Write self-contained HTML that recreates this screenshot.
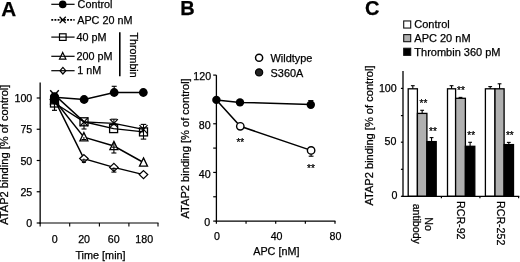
<!DOCTYPE html>
<html><head><meta charset="utf-8"><title>Figure</title>
<style>
html,body{margin:0;padding:0;background:#fff;}
svg{display:block;}
text{font-family:"Liberation Sans",sans-serif;fill:#000;stroke:#000;stroke-width:0.25px;}
</style></head>
<body>
<svg width="520" height="262" viewBox="0 0 520 262">
<rect width="520" height="262" fill="#fff"/>
<text x="1.2" y="15.6" font-size="20.7" text-anchor="start" font-weight="bold">A</text>
<text x="180.3" y="15.4" font-size="20" text-anchor="start" font-weight="bold">B</text>
<text x="365.1" y="15.3" font-size="20" text-anchor="start" font-weight="bold">C</text>
<line x1="51.3" y1="4.3" x2="74.6" y2="4.3" stroke="#000" stroke-width="1.2"/>
<circle cx="62.7" cy="4.4" r="3.8" fill="#000" stroke="#000" stroke-width="0"/>
<text x="77.6" y="7.8" font-size="10.8" text-anchor="start" font-weight="normal">Control</text>
<line x1="51.3" y1="19.9" x2="74.6" y2="19.9" stroke="#000" stroke-width="1.7" stroke-dasharray="1.9 1.25"/>
<line x1="59.6" y1="16.7" x2="65.8" y2="23.099999999999998" stroke="#000" stroke-width="1.3"/>
<line x1="59.6" y1="23.099999999999998" x2="65.8" y2="16.7" stroke="#000" stroke-width="1.3"/>
<text x="77.2" y="23.9" font-size="10.8" text-anchor="start" font-weight="normal">APC 20 nM</text>
<line x1="51.3" y1="37.1" x2="74.6" y2="37.1" stroke="#000" stroke-width="1.2"/>
<rect x="59.50000000000001" y="33.800000000000004" width="6.6" height="6.6" fill="none" stroke="#000" stroke-width="1.2"/>
<text x="76.4" y="40.8" font-size="10.8" text-anchor="start" font-weight="normal">40 pM</text>
<line x1="51.3" y1="56.3" x2="74.6" y2="56.3" stroke="#000" stroke-width="1.2"/>
<polygon points="62.7,52.4 65.9,59.1 59.5,59.1" fill="#fff" stroke="#000" stroke-width="1.2" stroke-linejoin="miter"/>
<line x1="60.7" y1="56.3" x2="64.7" y2="56.3" stroke="#000" stroke-width="1.0"/>
<text x="76.4" y="59.5" font-size="10.8" text-anchor="start" font-weight="normal">200 pM</text>
<line x1="51.3" y1="70.7" x2="74.6" y2="70.7" stroke="#000" stroke-width="1.2"/>
<polygon points="62.900000000000006,67.4 65.80000000000001,70.7 62.900000000000006,74.0 60.00000000000001,70.7" fill="none" stroke="#000" stroke-width="1.2"/>
<text x="77.2" y="74.3" font-size="10.8" text-anchor="start" font-weight="normal">1 nM</text>
<line x1="119.8" y1="32.3" x2="119.8" y2="76.2" stroke="#000" stroke-width="1.6"/>
<text x="129.6" y="32.6" font-size="10.67" text-anchor="start" font-weight="normal" transform="rotate(90 129.6 32.6)">Thrombin</text>
<line x1="40.15" y1="82.6" x2="40.15" y2="223.65" stroke="#000" stroke-width="1.3"/>
<line x1="39.5" y1="223.0" x2="158.5" y2="223.0" stroke="#000" stroke-width="1.2"/>
<line x1="36.7" y1="98.0" x2="40.15" y2="98.0" stroke="#000" stroke-width="1.2"/>
<text x="32.3" y="102.2" font-size="10.67" text-anchor="end" font-weight="normal">100</text>
<line x1="36.7" y1="129.25" x2="40.15" y2="129.25" stroke="#000" stroke-width="1.2"/>
<text x="32.3" y="133.45" font-size="10.67" text-anchor="end" font-weight="normal">75</text>
<line x1="36.7" y1="160.5" x2="40.15" y2="160.5" stroke="#000" stroke-width="1.2"/>
<text x="32.3" y="164.7" font-size="10.67" text-anchor="end" font-weight="normal">50</text>
<line x1="36.7" y1="191.75" x2="40.15" y2="191.75" stroke="#000" stroke-width="1.2"/>
<text x="32.3" y="195.95" font-size="10.67" text-anchor="end" font-weight="normal">25</text>
<line x1="36.7" y1="223.0" x2="40.15" y2="223.0" stroke="#000" stroke-width="1.2"/>
<text x="32.3" y="227.2" font-size="10.67" text-anchor="end" font-weight="normal">0</text>
<line x1="69.7" y1="223.0" x2="69.7" y2="226.4" stroke="#000" stroke-width="1.1"/>
<line x1="99.4" y1="223.0" x2="99.4" y2="226.4" stroke="#000" stroke-width="1.1"/>
<line x1="128.9" y1="223.0" x2="128.9" y2="226.4" stroke="#000" stroke-width="1.1"/>
<line x1="158.0" y1="223.0" x2="158.0" y2="226.4" stroke="#000" stroke-width="1.1"/>
<line x1="40.15" y1="223.0" x2="40.15" y2="226.4" stroke="#000" stroke-width="1.1"/>
<text x="54.7" y="242.9" font-size="10.67" text-anchor="middle" font-weight="normal">0</text>
<text x="84.1" y="242.9" font-size="10.67" text-anchor="middle" font-weight="normal">20</text>
<text x="113.8" y="242.9" font-size="10.67" text-anchor="middle" font-weight="normal">60</text>
<text x="144.2" y="242.9" font-size="10.67" text-anchor="middle" font-weight="normal">180</text>
<text x="100.5" y="259.2" font-size="10.85" text-anchor="middle" font-weight="normal">Time [min]</text>
<text x="8.5" y="224.8" font-size="11.1" text-anchor="start" font-weight="normal" transform="rotate(-90 8.5 224.8)">ATAP2 binding [% of control]</text>
<polyline points="54.5,99.6 83.9,158.6 113.9,167.4 143.5,174.6" fill="none" stroke="#000" stroke-width="1.45"/>
<polyline points="54.5,100.2 83.9,137.2 113.9,146 143.5,162.5" fill="none" stroke="#000" stroke-width="1.45"/>
<polyline points="54.5,103.0 84,121.8 113.6,128.6 143.5,131.9" fill="none" stroke="#000" stroke-width="1.45"/>
<polyline points="54.5,94.9 84,121.9 113.9,123.4 143.5,129.4" fill="none" stroke="#000" stroke-width="1.45"/>
<polyline points="54.5,97.2 84.1,99.5 114.2,92.5 143.3,92.5" fill="none" stroke="#000" stroke-width="1.45"/>
<polygon points="54.5,95.6 58.7,99.6 54.5,103.6 50.3,99.6" fill="none" stroke="#000" stroke-width="1.3"/>
<polygon points="83.9,154.6 88.10000000000001,158.6 83.9,162.6 79.7,158.6" fill="#fff" stroke="#000" stroke-width="1.3"/>
<polygon points="113.9,163.4 118.10000000000001,167.4 113.9,171.4 109.7,167.4" fill="#fff" stroke="#000" stroke-width="1.3"/>
<polygon points="143.5,170.6 147.7,174.6 143.5,178.6 139.3,174.6" fill="#fff" stroke="#000" stroke-width="1.3"/>
<polygon points="54.5,95.60000000000001 58.5,103.8 50.5,103.8" fill="none" stroke="#000" stroke-width="1.3" stroke-linejoin="miter"/>
<polygon points="83.9,132.6 87.9,140.79999999999998 79.9,140.79999999999998" fill="#fff" stroke="#000" stroke-width="1.3" stroke-linejoin="miter"/>
<polygon points="113.9,141.4 117.9,149.6 109.9,149.6" fill="#fff" stroke="#000" stroke-width="1.3" stroke-linejoin="miter"/>
<polygon points="143.5,157.9 147.5,166.1 139.5,166.1" fill="#fff" stroke="#000" stroke-width="1.3" stroke-linejoin="miter"/>
<rect x="50.5" y="99.0" width="8.0" height="8.0" fill="none" stroke="#000" stroke-width="1.3"/>
<rect x="80.0" y="117.8" width="8.0" height="8.0" fill="none" stroke="#000" stroke-width="1.3"/>
<rect x="109.6" y="124.6" width="8.0" height="8.0" fill="none" stroke="#000" stroke-width="1.3"/>
<rect x="139.5" y="127.9" width="8.0" height="8.0" fill="none" stroke="#000" stroke-width="1.3"/>
<line x1="50.2" y1="90.2" x2="58.8" y2="99.60000000000001" stroke="#000" stroke-width="1.4"/>
<line x1="50.2" y1="99.60000000000001" x2="58.8" y2="90.2" stroke="#000" stroke-width="1.4"/>
<line x1="80.0" y1="117.7" x2="88.0" y2="126.10000000000001" stroke="#000" stroke-width="1.2"/>
<line x1="80.0" y1="126.10000000000001" x2="88.0" y2="117.7" stroke="#000" stroke-width="1.2"/>
<line x1="109.9" y1="119.2" x2="117.9" y2="127.60000000000001" stroke="#000" stroke-width="1.2"/>
<line x1="109.9" y1="127.60000000000001" x2="117.9" y2="119.2" stroke="#000" stroke-width="1.2"/>
<line x1="139.5" y1="125.2" x2="147.5" y2="133.6" stroke="#000" stroke-width="1.2"/>
<line x1="139.5" y1="133.6" x2="147.5" y2="125.2" stroke="#000" stroke-width="1.2"/>
<circle cx="54.5" cy="97.2" r="4.4" fill="#000" stroke="#000" stroke-width="0"/>
<circle cx="84.1" cy="99.5" r="4.4" fill="#000" stroke="#000" stroke-width="0"/>
<circle cx="114.2" cy="92.5" r="4.4" fill="#000" stroke="#000" stroke-width="0"/>
<circle cx="143.3" cy="92.5" r="4.4" fill="#000" stroke="#000" stroke-width="0"/>
<circle cx="54.5" cy="96.9" r="4.6" fill="#000" stroke="#000" stroke-width="0"/>
<circle cx="54.5" cy="99.8" r="4.4" fill="#000" stroke="#000" stroke-width="0"/>
<line x1="114.2" y1="86.3" x2="114.2" y2="92.5" stroke="#000" stroke-width="1.1"/>
<line x1="111.7" y1="86.3" x2="116.7" y2="86.3" stroke="#000" stroke-width="1.1"/>
<line x1="54.5" y1="102" x2="54.5" y2="110.3" stroke="#000" stroke-width="1.2"/>
<line x1="52.0" y1="110.3" x2="57.0" y2="110.3" stroke="#000" stroke-width="1.2"/>
<line x1="84" y1="122" x2="84" y2="129.0" stroke="#000" stroke-width="1.1"/>
<line x1="81.5" y1="129.0" x2="86.5" y2="129.0" stroke="#000" stroke-width="1.1"/>
<line x1="113.9" y1="119.2" x2="113.9" y2="123.4" stroke="#000" stroke-width="1.1"/>
<line x1="110.9" y1="119.2" x2="116.9" y2="119.2" stroke="#000" stroke-width="1.1"/>
<line x1="143.5" y1="124.4" x2="143.5" y2="139.1" stroke="#000" stroke-width="1.1"/>
<line x1="140.75" y1="124.4" x2="146.25" y2="124.4" stroke="#000" stroke-width="1.1"/>
<line x1="140.75" y1="139.1" x2="146.25" y2="139.1" stroke="#000" stroke-width="1.1"/>
<line x1="113.9" y1="142" x2="113.9" y2="153" stroke="#000" stroke-width="1.1"/>
<line x1="111.4" y1="153" x2="116.4" y2="153" stroke="#000" stroke-width="1.1"/>
<line x1="111.8" y1="147.2" x2="116" y2="147.2" stroke="#000" stroke-width="1.0"/>
<line x1="83.9" y1="137" x2="83.9" y2="139.5" stroke="#000" stroke-width="1.0"/>
<line x1="81.4" y1="139.5" x2="86.4" y2="139.5" stroke="#000" stroke-width="1.0"/>
<line x1="83.9" y1="158.6" x2="83.9" y2="162.4" stroke="#000" stroke-width="1.0"/>
<line x1="81.9" y1="162.4" x2="85.9" y2="162.4" stroke="#000" stroke-width="1.0"/>
<line x1="81.5" y1="159.9" x2="86.3" y2="159.9" stroke="#000" stroke-width="1.0"/>
<line x1="113.9" y1="167.4" x2="113.9" y2="172.1" stroke="#000" stroke-width="1.1"/>
<line x1="111.4" y1="172.1" x2="116.4" y2="172.1" stroke="#000" stroke-width="1.1"/>
<line x1="111.6" y1="168.4" x2="116.2" y2="168.4" stroke="#000" stroke-width="1.0"/>
<line x1="216.4" y1="75.1" x2="216.4" y2="221.75" stroke="#000" stroke-width="1.3"/>
<line x1="215.75" y1="221.1" x2="335.4" y2="221.1" stroke="#000" stroke-width="1.3"/>
<line x1="213.2" y1="221.1" x2="216.4" y2="221.1" stroke="#000" stroke-width="1.2"/>
<line x1="213.2" y1="196.76666666666665" x2="216.4" y2="196.76666666666665" stroke="#000" stroke-width="1.2"/>
<line x1="213.2" y1="172.43333333333334" x2="216.4" y2="172.43333333333334" stroke="#000" stroke-width="1.2"/>
<line x1="213.2" y1="148.1" x2="216.4" y2="148.1" stroke="#000" stroke-width="1.2"/>
<line x1="213.2" y1="123.76666666666667" x2="216.4" y2="123.76666666666667" stroke="#000" stroke-width="1.2"/>
<line x1="213.2" y1="99.43333333333334" x2="216.4" y2="99.43333333333334" stroke="#000" stroke-width="1.2"/>
<line x1="213.2" y1="75.1" x2="216.4" y2="75.1" stroke="#000" stroke-width="1.2"/>
<text x="210.2" y="225.79999999999998" font-size="10.67" text-anchor="end" font-weight="normal">0</text>
<text x="210.6" y="177.53333333333333" font-size="10.67" text-anchor="end" font-weight="normal">40</text>
<text x="210.6" y="128.86666666666667" font-size="10.67" text-anchor="end" font-weight="normal">80</text>
<text x="211.1" y="79.6" font-size="10.67" text-anchor="end" font-weight="normal">120</text>
<line x1="216.4" y1="221.1" x2="216.4" y2="223.7" stroke="#000" stroke-width="1.2"/>
<line x1="246.05" y1="221.1" x2="246.05" y2="223.7" stroke="#000" stroke-width="1.2"/>
<line x1="275.7" y1="221.1" x2="275.7" y2="223.7" stroke="#000" stroke-width="1.2"/>
<line x1="305.35" y1="221.1" x2="305.35" y2="223.7" stroke="#000" stroke-width="1.2"/>
<line x1="335.0" y1="221.1" x2="335.0" y2="223.7" stroke="#000" stroke-width="1.2"/>
<text x="217.0" y="240.1" font-size="10.67" text-anchor="middle" font-weight="normal">0</text>
<text x="276.6" y="240.1" font-size="10.67" text-anchor="middle" font-weight="normal">40</text>
<text x="335.4" y="240.1" font-size="10.67" text-anchor="middle" font-weight="normal">80</text>
<text x="276.3" y="255.1" font-size="10.8" text-anchor="middle" font-weight="normal">APC [nM]</text>
<text x="189.0" y="218.5" font-size="11.1" text-anchor="start" font-weight="normal" transform="rotate(-90 189.0 218.5)">ATAP2 binding [% of control]</text>
<polyline points="216.4,99.9 240.3,126.3 311.1,150.4" fill="none" stroke="#000" stroke-width="1.5"/>
<polyline points="216.4,99.9 240.0,102.4 310.8,104.5" fill="none" stroke="#000" stroke-width="1.5"/>
<line x1="311.1" y1="150.4" x2="311.1" y2="156.2" stroke="#000" stroke-width="1.1"/>
<line x1="308.70000000000005" y1="156.2" x2="313.5" y2="156.2" stroke="#000" stroke-width="1.1"/>
<circle cx="240.3" cy="126.3" r="3.7" fill="#fff" stroke="#000" stroke-width="1.4"/>
<circle cx="311.1" cy="150.4" r="3.7" fill="#fff" stroke="#000" stroke-width="1.4"/>
<circle cx="216.4" cy="99.9" r="4.2" fill="#000" stroke="#000" stroke-width="0"/>
<circle cx="240.0" cy="102.4" r="4.2" fill="#000" stroke="#000" stroke-width="0"/>
<circle cx="310.8" cy="104.7" r="4.2" fill="#000" stroke="#000" stroke-width="0"/>
<line x1="308.2" y1="100.6" x2="313.4" y2="100.6" stroke="#000" stroke-width="1.1"/>
<text x="240.3" y="146.2" font-size="10" text-anchor="middle" font-weight="normal" stroke-width="0.4">**</text>
<text x="311.0" y="172.4" font-size="10" text-anchor="middle" font-weight="normal" stroke-width="0.4">**</text>
<circle cx="259.1" cy="57.7" r="3.55" fill="#fff" stroke="#000" stroke-width="1.5"/>
<text x="270.6" y="61.5" font-size="10.9" text-anchor="start" font-weight="normal">Wildtype</text>
<circle cx="259.1" cy="72.4" r="3.6" fill="#222" stroke="#000" stroke-width="1.2"/>
<text x="270.6" y="76.5" font-size="10.9" text-anchor="start" font-weight="normal">S360A</text>
<rect x="408.20" y="88.80" width="9.20" height="107.50" fill="#fff" stroke="#000" stroke-width="1.3"/>
<line x1="412.79999999999995" y1="85.7" x2="412.79999999999995" y2="88.8" stroke="#000" stroke-width="1.1"/>
<line x1="410.9" y1="85.7" x2="414.69999999999993" y2="85.7" stroke="#000" stroke-width="1.1"/>
<rect x="417.40" y="113.40" width="9.50" height="82.90" fill="#b0b0b0" stroke="#000" stroke-width="1.3"/>
<line x1="422.15" y1="110.3" x2="422.15" y2="113.4" stroke="#000" stroke-width="1.1"/>
<line x1="420.25" y1="110.3" x2="424.04999999999995" y2="110.3" stroke="#000" stroke-width="1.1"/>
<rect x="426.90" y="141.60" width="9.30" height="54.70" fill="#000" stroke="#000" stroke-width="1.3"/>
<line x1="431.54999999999995" y1="137.6" x2="431.54999999999995" y2="141.6" stroke="#000" stroke-width="1.1"/>
<line x1="429.65" y1="137.6" x2="433.44999999999993" y2="137.6" stroke="#000" stroke-width="1.1"/>
<rect x="447.50" y="88.80" width="8.10" height="107.50" fill="#fff" stroke="#000" stroke-width="1.3"/>
<line x1="451.55" y1="85.7" x2="451.55" y2="88.8" stroke="#000" stroke-width="1.1"/>
<line x1="449.65000000000003" y1="85.7" x2="453.45" y2="85.7" stroke="#000" stroke-width="1.1"/>
<rect x="455.60" y="98.30" width="9.80" height="98.00" fill="#b0b0b0" stroke="#000" stroke-width="1.3"/>
<line x1="460.5" y1="97.4" x2="460.5" y2="98.3" stroke="#000" stroke-width="1.1"/>
<line x1="458.6" y1="97.4" x2="462.4" y2="97.4" stroke="#000" stroke-width="1.1"/>
<rect x="465.40" y="146.30" width="9.40" height="50.00" fill="#000" stroke="#000" stroke-width="1.3"/>
<line x1="470.1" y1="142.3" x2="470.1" y2="146.3" stroke="#000" stroke-width="1.1"/>
<line x1="468.20000000000005" y1="142.3" x2="472.0" y2="142.3" stroke="#000" stroke-width="1.1"/>
<rect x="485.40" y="88.80" width="9.60" height="107.50" fill="#fff" stroke="#000" stroke-width="1.3"/>
<line x1="490.2" y1="86.6" x2="490.2" y2="88.8" stroke="#000" stroke-width="1.1"/>
<line x1="488.3" y1="86.6" x2="492.09999999999997" y2="86.6" stroke="#000" stroke-width="1.1"/>
<rect x="495.00" y="88.80" width="9.10" height="107.50" fill="#b0b0b0" stroke="#000" stroke-width="1.3"/>
<line x1="499.55" y1="83.8" x2="499.55" y2="88.8" stroke="#000" stroke-width="1.1"/>
<line x1="497.65000000000003" y1="83.8" x2="501.45" y2="83.8" stroke="#000" stroke-width="1.1"/>
<rect x="504.10" y="144.60" width="9.40" height="51.70" fill="#000" stroke="#000" stroke-width="1.3"/>
<line x1="508.8" y1="142.4" x2="508.8" y2="144.6" stroke="#000" stroke-width="1.1"/>
<line x1="506.90000000000003" y1="142.4" x2="510.7" y2="142.4" stroke="#000" stroke-width="1.1"/>
<line x1="403.0" y1="71" x2="403.0" y2="196.95000000000002" stroke="#000" stroke-width="1.3"/>
<line x1="402.35" y1="196.3" x2="519.3" y2="196.3" stroke="#000" stroke-width="1.3"/>
<line x1="400.9" y1="88.4" x2="403.0" y2="88.4" stroke="#000" stroke-width="1.2"/>
<line x1="400.9" y1="115.6" x2="403.0" y2="115.6" stroke="#000" stroke-width="1.2"/>
<line x1="400.9" y1="142.2" x2="403.0" y2="142.2" stroke="#000" stroke-width="1.2"/>
<line x1="400.9" y1="169.3" x2="403.0" y2="169.3" stroke="#000" stroke-width="1.2"/>
<line x1="400.9" y1="196.3" x2="403.0" y2="196.3" stroke="#000" stroke-width="1.2"/>
<text x="397.4" y="199.10000000000002" font-size="10.67" text-anchor="end" font-weight="normal">0</text>
<text x="396.4" y="145.0" font-size="10.67" text-anchor="end" font-weight="normal">50</text>
<text x="396.7" y="91.80000000000001" font-size="10.67" text-anchor="end" font-weight="normal">100</text>
<line x1="441.4" y1="196.3" x2="441.4" y2="198.3" stroke="#000" stroke-width="1.2"/>
<line x1="479.9" y1="196.3" x2="479.9" y2="198.3" stroke="#000" stroke-width="1.2"/>
<line x1="518.6" y1="196.3" x2="518.6" y2="198.3" stroke="#000" stroke-width="1.2"/>
<text x="372.6" y="205.6" font-size="11.1" text-anchor="start" font-weight="normal" transform="rotate(-90 372.6 205.6)">ATAP2 binding [% of control]</text>
<rect x="403.7" y="20.95" width="7.0" height="7.1" fill="#fff" stroke="#111" stroke-width="1.1"/>
<text x="414.3" y="28.2" font-size="11.0" text-anchor="start" font-weight="normal">Control</text>
<rect x="403.7" y="34.60" width="7.0" height="7.1" fill="#b0b0b0" stroke="#111" stroke-width="1.1"/>
<text x="414.3" y="41.9" font-size="11.0" text-anchor="start" font-weight="normal">APC 20 nM</text>
<rect x="403.7" y="48.25" width="7.0" height="7.1" fill="#000" stroke="#111" stroke-width="1.1"/>
<text x="414.3" y="55.8" font-size="11.0" text-anchor="start" font-weight="normal">Thrombin 360 pM</text>
<text x="423.5" y="106.8" font-size="10" text-anchor="middle" font-weight="normal" stroke-width="0.4">**</text>
<text x="432.9" y="134.70000000000002" font-size="10" text-anchor="middle" font-weight="normal" stroke-width="0.4">**</text>
<text x="461.0" y="93.8" font-size="10" text-anchor="middle" font-weight="normal" stroke-width="0.4">**</text>
<text x="471.2" y="138.70000000000002" font-size="10" text-anchor="middle" font-weight="normal" stroke-width="0.4">**</text>
<text x="509.8" y="138.70000000000002" font-size="10" text-anchor="middle" font-weight="normal" stroke-width="0.4">**</text>
<text x="424.8" y="224.0" font-size="10.67" text-anchor="middle" font-weight="normal" transform="rotate(90 424.8 224.0)">No</text>
<text x="413.3" y="223.8" font-size="10.67" text-anchor="middle" font-weight="normal" transform="rotate(90 413.3 223.8)">antibody</text>
<text x="457.0" y="201.0" font-size="10.67" text-anchor="start" font-weight="normal" transform="rotate(90 457.0 201.0)">RCR-92</text>
<text x="496.7" y="201.0" font-size="10.67" text-anchor="start" font-weight="normal" transform="rotate(90 496.7 201.0)">RCR-252</text>
</svg>
</body></html>
